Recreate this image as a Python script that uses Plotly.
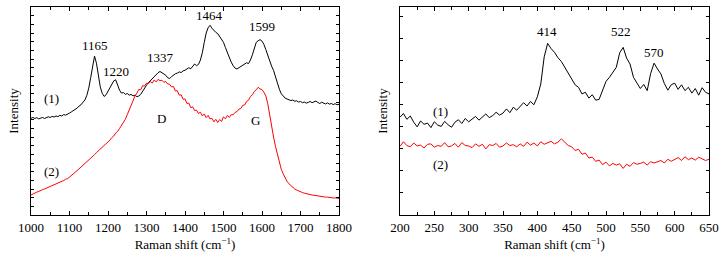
import plotly.graph_objects as go
from plotly.subplots import make_subplots

# ---------------- data: left panel (1000-1800 cm-1, step 5) ----------------
left_start, left_step = 1000, 5
left_s1 = [46.5, 46.9, 46.4, 46.8, 46.2, 46.7, 46.9, 46.4, 46.8, 47.2,
           46.9, 47.4, 47.1, 47.6, 47.3, 47.9, 47.6, 48.3, 48.0, 48.7,
           49.0, 49.6, 50.1, 50.9, 51.4, 52.4, 53.0, 54.2, 55.3, 57.5,
           61.0, 66.0, 72.0, 76.4, 73.0, 66.5, 61.5, 58.5, 57.0, 57.8,
           59.5, 61.0, 63.0, 64.5, 65.0, 62.5, 60.0, 58.6, 58.9, 58.0,
           58.4, 57.6, 58.0, 57.3, 57.6, 56.9, 57.2, 58.0, 59.6, 61.0,
           62.4, 63.6, 64.5, 65.8, 66.8, 67.5, 68.4, 69.0, 68.4, 68.0,
           67.2, 66.0, 65.6, 66.5, 67.4, 67.9, 68.2, 68.8, 68.5, 69.3,
           69.6, 70.2, 70.8, 70.3, 71.5, 72.6, 71.8, 72.4, 74.5, 78.0,
           83.0, 87.5, 90.0, 91.2, 89.8, 88.6, 87.8, 87.2, 86.0, 84.5,
           83.0, 80.5, 78.0, 75.6, 73.5, 71.8, 70.6, 70.2, 70.8, 71.0,
           71.8, 72.6, 73.2, 72.8, 74.5, 77.0, 80.5, 83.0, 83.8, 84.3,
           83.6, 82.0, 79.5, 76.5, 73.8, 71.5, 69.5, 66.5, 63.0, 60.5,
           58.3, 57.0, 56.2, 55.8, 55.4, 55.0, 55.3, 54.7, 54.9, 54.3,
           54.6, 54.0, 54.3, 53.8, 54.1, 54.6, 54.0, 54.4, 54.8, 54.1,
           53.6, 54.2, 53.7, 53.4, 53.9, 53.3, 53.6, 53.1, 53.5, 53.0,
           53.2]
left_s2 = [9.6, 10.2, 10.6, 11.0, 11.3, 11.9, 12.2, 12.5, 12.9, 13.2,
           13.6, 14.0, 14.4, 14.9, 15.2, 15.8, 16.2, 16.6, 17.2, 17.5,
           18.2, 18.9, 19.5, 20.6, 21.4, 22.2, 23.0, 23.8, 24.6, 25.6,
           26.3, 27.4, 28.2, 29.0, 30.0, 30.8, 31.8, 32.6, 33.4, 34.2,
           35.2, 36.0, 37.2, 38.0, 39.4, 40.2, 41.6, 43.0, 44.5, 46.0,
           48.2, 50.5, 52.8, 55.0, 57.2, 58.6, 60.4, 60.2, 62.2, 62.0,
           63.4, 63.2, 64.2, 63.4, 64.9, 64.0, 65.2, 64.6, 64.8, 63.8,
           64.2, 63.0, 62.9, 61.6, 61.8, 59.6, 59.8, 57.6, 57.8, 55.6,
           55.8, 53.6, 53.8, 51.6, 52.0, 50.2, 50.4, 48.8, 49.4, 47.6,
           48.6, 46.8, 47.9, 46.2, 46.5, 44.8, 46.0, 44.5, 45.9, 45.0,
           47.2, 46.2, 47.9, 46.9, 48.2, 48.2, 49.3, 49.7, 50.9, 51.2,
           52.7, 52.9, 54.6, 55.2, 57.0, 57.8, 59.4, 60.2, 61.4, 60.6,
           60.3, 59.0, 57.2, 53.5, 47.5, 42.0, 37.5, 33.0, 29.0, 25.0,
           22.0, 19.8, 17.8, 16.2, 15.0, 14.0, 13.2, 12.5, 12.0, 11.5,
           11.0, 10.8, 10.5, 10.2, 10.0, 9.8, 9.6, 9.5, 9.3, 9.2,
           9.0, 8.9, 8.8, 8.6, 8.6, 8.4, 8.3, 8.2, 8.2, 8.1,
           8.0]
left_x = [left_start + i * left_step for i in range(len(left_s1))]

# ---------------- data: right panel (200-650 cm-1, step 5) ----------------
right_start, right_step = 200, 5
right_s1 = [47.0, 48.8, 46.0, 47.6, 44.6, 42.4, 45.2, 43.6, 44.2, 42.0,
            44.8, 43.2, 42.6, 45.0, 43.4, 42.2, 44.6, 45.8, 44.0, 46.4,
            44.8, 46.0, 47.4, 45.6, 47.0, 48.6, 46.8, 47.8, 49.4, 48.0,
            49.0, 51.0, 49.2, 51.8, 50.4, 52.2, 54.0, 52.4, 54.6, 53.0,
            56.8, 63.0, 76.0, 82.5, 80.0, 78.2, 75.6, 73.8, 71.0, 68.8,
            66.0, 62.6, 61.4, 58.2, 59.0, 56.2, 57.8, 55.2, 55.6, 59.8,
            64.2, 66.2, 68.8, 71.0, 78.0, 80.6, 75.4, 72.6, 66.2, 63.8,
            60.8, 62.8, 59.8, 68.0, 73.0, 70.2, 67.8, 63.2, 60.0, 62.6,
            63.4, 60.4, 62.6, 59.8, 61.4, 58.6, 60.8, 57.6, 61.2, 59.0,
            58.2]
right_s2 = [33.0, 35.2, 33.4, 32.8, 34.6, 33.2, 33.6, 32.2, 34.0, 34.2,
            32.6, 33.4, 33.0, 34.8, 32.8, 33.2, 34.4, 32.6, 34.8, 33.4,
            33.2, 32.4, 34.2, 33.0, 34.0, 31.8, 33.8, 33.4, 34.4, 32.6,
            33.2, 34.6, 33.4, 33.8, 32.8, 34.2, 33.0, 35.0, 33.6, 34.6,
            33.2, 35.2, 34.0, 34.6, 35.4, 34.2, 35.0, 36.6, 34.8, 33.4,
            32.8, 31.0, 31.6, 29.2, 29.8, 27.4, 27.8, 25.8, 26.4, 24.2,
            25.4, 23.6, 24.8, 24.0, 24.6, 22.4, 24.4, 23.4, 25.2, 24.4,
            24.8, 25.4, 24.0, 25.6, 25.0, 25.8, 26.2, 25.0, 26.8, 25.8,
            26.8, 27.6, 26.2, 28.0, 26.6, 27.4, 26.4, 27.8, 27.0, 26.2,
            26.8]
right_x = [right_start + i * right_step for i in range(len(right_s1))]

# peak labels: (x, y, text)
left_peaks = [(1165, 81.5, "1165"), (1222, 69, "1220"), (1337, 75.5, "1337"),
              (1464, 96, "1464"), (1600, 90.5, "1599")]
left_marks = [(1052, 56, "(1)"), (1053, 21, "(2)"),
              (1338, 46.5, "D"), (1584, 45.5, "G")]
right_peaks = [(414, 88, "414"), (522, 88, "522"), (570, 78, "570")]
right_marks = [(259, 50, "(1)"), (259, 24.5, "(2)")]

FONT = "Liberation Serif"

fig = make_subplots(rows=1, cols=2)
fig.add_trace(go.Scatter(x=left_x, y=left_s1, mode="lines",
                         line=dict(color="black", width=1)), row=1, col=1)
fig.add_trace(go.Scatter(x=left_x, y=left_s2, mode="lines",
                         line=dict(color="red", width=1)), row=1, col=1)
fig.add_trace(go.Scatter(x=right_x, y=right_s1, mode="lines",
                         line=dict(color="black", width=1)), row=1, col=2)
fig.add_trace(go.Scatter(x=right_x, y=right_s2, mode="lines",
                         line=dict(color="red", width=1)), row=1, col=2)

ydom = [1 - 215 / 258, 1 - 7 / 258]
common_x = dict(showgrid=False, zeroline=False, showline=True, linecolor="black",
                linewidth=1, mirror="ticks", ticks="inside", ticklen=4,
                tickcolor="black", automargin=False,
                tickfont=dict(family=FONT, size=13, color="black"),
                title_font=dict(family=FONT, size=13, color="black"))
common_y = dict(showgrid=False, zeroline=False, showline=True, linecolor="black",
                linewidth=1, mirror="ticks", ticks="inside", ticklen=3,
                tickcolor="black", showticklabels=False, range=[0, 100],
                automargin=False,
                title_font=dict(family=FONT, size=13, color="black"))

fig.update_xaxes(common_x, row=1, col=1, domain=[31 / 720, 339 / 720],
                 range=[1000, 1800], dtick=100, tick0=1000,
                 minor=dict(ticks="inside", dtick=50, ticklen=3, tickcolor="black"),
                 title=dict(text="Raman shift (cm<sup>−1</sup>)", standoff=6))
fig.update_xaxes(common_x, row=1, col=2, domain=[400 / 720, 709 / 720],
                 range=[200, 650], dtick=50, tick0=200,
                 minor=dict(ticks="inside", dtick=25, ticklen=3, tickcolor="black"),
                 title=dict(text="Raman shift (cm<sup>−1</sup>)", standoff=6))
fig.update_yaxes(common_y, row=1, col=1, domain=ydom, dtick=100 / 24, tick0=0,
                 title=dict(text="Intensity", standoff=8))
fig.update_yaxes(common_y, row=1, col=2, domain=ydom, dtick=10.63, tick0=0,
                 title=dict(text="Intensity", standoff=8))

anns = []
for x, y, t in left_peaks + left_marks:
    anns.append(dict(x=x, y=y, xref="x", yref="y", text=t, showarrow=False,
                     font=dict(family=FONT, size=13, color="black")))
for x, y, t in right_peaks + right_marks:
    anns.append(dict(x=x, y=y, xref="x2", yref="y2", text=t, showarrow=False,
                     font=dict(family=FONT, size=13, color="black")))
fig.update_layout(annotations=anns)

fig.update_layout(width=720, height=258, margin=dict(l=0, r=0, t=0, b=0),
                  font=dict(family=FONT, size=13, color="black"),
                  paper_bgcolor="white", plot_bgcolor="white", showlegend=False)

fig.write_html("out.html", config={"displayModeBar": False},
               post_script="document.body.style.margin='0';"
                           "document.body.style.overflow='hidden';")
